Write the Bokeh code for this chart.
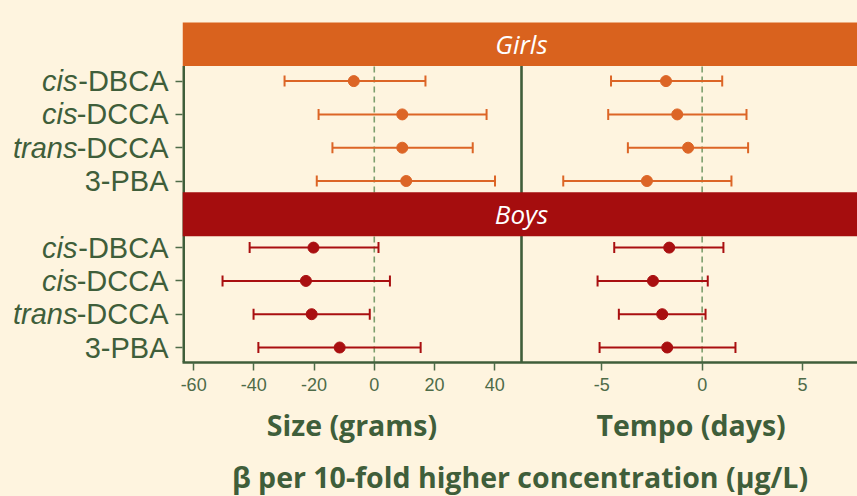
import numpy as np
from bokeh.plotting import figure
from bokeh.models import Range1d, FixedTicker, Label, LinearAxis, GlobalInlineStyleSheet
from bokeh.embed import file_html
from bokeh.resources import INLINE

# ---------------- data ----------------
row_italic = ["cis", "cis", "trans", ""]
row_plain = ["-DBCA", "-DCCA", "-DCCA", "3-PBA"]

girls_size_est = [-6.8, 9.3, 9.3, 10.6]
girls_size_lo = [-29.8, -18.5, -13.9, -19.1]
girls_size_hi = [17.0, 37.3, 32.7, 40.1]

boys_size_est = [-20.2, -22.7, -20.8, -11.5]
boys_size_lo = [-41.4, -50.4, -40.1, -38.5]
boys_size_hi = [1.4, 5.2, -1.5, 15.4]

girls_tempo_est = [-1.80, -1.24, -0.70, -2.75]
girls_tempo_lo = [-4.54, -4.68, -3.70, -6.92]
girls_tempo_hi = [1.00, 2.21, 2.29, 1.46]

boys_tempo_est = [-1.64, -2.45, -1.99, -1.74]
boys_tempo_lo = [-4.38, -5.21, -4.15, -5.11]
boys_tempo_hi = [1.06, 0.28, 0.17, 1.66]

size_ticks = [-60, -40, -20, 0, 20, 40]
tempo_ticks = [-5, 0, 5]

group_names = ["Girls", "Boys"]
size_title = "Size (grams)"
tempo_title = "Tempo (days)"
main_title = "β per 10-fold higher concentration (μg/L)"

# ---------------- layout / style ----------------
BG = "#FEF4DF"
GREEN = "#3F5E3A"
TICK_GREEN = "#4E6B48"
DASH_GREEN = "#7D9E6E"
GIRLS_BAND_C = "#D9621E"
BOYS_BAND_C = "#A50D0E"
GIRLS_C = "#DC6526"
BOYS_C = "#A90F10"

SIZE_LIM = (-63.7, 48.9)
TEMPO_LIM = (-9.0, 7.74)
FRAME_W, FRAME_H, SPLIT_PX = 675, 340, 339
Y_LIM = (0.55, 10.76)
girls_rows = [9, 8, 7, 6]
boys_rows = [4, 3, 2, 1]
GIRLS_BAND = (9.45, 10.8)
BOYS_BAND = (4.34, 5.66)
SIZE_TITLE_X = -7.4
TEMPO_TITLE_X = -0.55

px_per_size = SPLIT_PX / (SIZE_LIM[1] - SIZE_LIM[0])
x_end = SIZE_LIM[0] + FRAME_W / px_per_size
px_per_tempo = (FRAME_W - SPLIT_PX) / (TEMPO_LIM[1] - TEMPO_LIM[0])
t_start = TEMPO_LIM[0] - SPLIT_PX / px_per_tempo


def tempo_to_main(t):
    return SIZE_LIM[0] + (t - t_start) * px_per_tempo / px_per_size


p = figure(frame_width=FRAME_W, frame_height=FRAME_H,
           min_border_left=182, min_border_top=22, min_border_bottom=134, min_border_right=0,
           x_range=Range1d(SIZE_LIM[0], x_end), y_range=Range1d(*Y_LIM),
           output_backend="svg", toolbar_location=None,
           background_fill_color=BG, border_fill_color=BG, outline_line_color=None)
p.extra_x_ranges = {"tempo": Range1d(t_start, TEMPO_LIM[1])}
p.grid.visible = False
p.stylesheets = [GlobalInlineStyleSheet(css="html, body { background: %s; }" % BG)]

# zero reference lines
p.segment(x0=[0], y0=[Y_LIM[0]], x1=[0], y1=[Y_LIM[1]], line_color=DASH_GREEN,
          line_width=1.6, line_dash="6 4")
p.segment(x0=[0], y0=[Y_LIM[0]], x1=[0], y1=[Y_LIM[1]], line_color=DASH_GREEN,
          line_width=1.6, line_dash="6 4", x_range_name="tempo")

# panel separator and left frame line (under the header bands)
p.segment(x0=[SIZE_LIM[1]], y0=[Y_LIM[0]], x1=[SIZE_LIM[1]], y1=[GIRLS_BAND[0]],
          line_color=GREEN, line_width=2.6)
p.segment(x0=[SIZE_LIM[0]], y0=[Y_LIM[0]], x1=[SIZE_LIM[0]], y1=[GIRLS_BAND[0]],
          line_color=GREEN, line_width=5)

# header bands
p.quad(left=[SIZE_LIM[0]], right=[x_end], bottom=[GIRLS_BAND[0]], top=[GIRLS_BAND[1]],
       fill_color=GIRLS_BAND_C, line_color=None)
p.quad(left=[SIZE_LIM[0]], right=[x_end], bottom=[BOYS_BAND[0]], top=[BOYS_BAND[1]],
       fill_color=BOYS_BAND_C, line_color=None)


def forest(est, lo, hi, rows, color, rng="default"):
    p.segment(x0=lo, y0=rows, x1=hi, y1=rows, line_color=color, line_width=2, x_range_name=rng)
    p.scatter(x=lo + hi, y=rows + rows, marker="dash", angle=np.pi / 2, size=11,
              line_color=color, line_width=2, x_range_name=rng)
    p.scatter(x=est, y=rows, marker="circle", size=11, fill_color=color, line_color=color,
              x_range_name=rng)


forest(girls_size_est, girls_size_lo, girls_size_hi, girls_rows, GIRLS_C)
forest(boys_size_est, boys_size_lo, boys_size_hi, boys_rows, BOYS_C)
forest(girls_tempo_est, girls_tempo_lo, girls_tempo_hi, girls_rows, GIRLS_C, "tempo")
forest(boys_tempo_est, boys_tempo_lo, boys_tempo_hi, boys_rows, BOYS_C, "tempo")

# header texts (inside frame)
for name, band in zip(group_names, (GIRLS_BAND, BOYS_BAND)):
    yc = (band[0] + min(band[1], Y_LIM[1])) / 2
    p.add_layout(Label(x=SIZE_LIM[1], y=yc, text=name, text_align="center",
                       text_baseline="middle", text_font="Open Sans", text_font_style="italic",
                       text_font_size="26px", text_color="white"))

# ---- y axes: plain part of the label next to the frame, italic prefix outside it
FS_ROW = "29px"
all_rows = girls_rows + boys_rows
ya = p.yaxis[0]
ya.ticker = FixedTicker(ticks=all_rows)
ya.major_label_overrides = {r: t for r, t in zip(all_rows, row_plain + row_plain)}
ya.axis_line_color = None
ya.major_tick_out = 7
ya.major_tick_in = 0
ya.major_tick_line_color = TICK_GREEN
ya.major_tick_line_width = 1.5
ya.minor_tick_line_color = None
ya.major_label_standoff = 7
ya.major_label_text_font = "Liberation Sans"
ya.major_label_text_font_size = FS_ROW
ya.major_label_text_color = GREEN

yi = LinearAxis(ticker=FixedTicker(ticks=all_rows),
                major_label_overrides={r: t for r, t in zip(all_rows, row_italic + row_italic)})
yi.axis_line_color = None
yi.major_tick_line_color = None
yi.minor_tick_line_color = None
yi.major_tick_out = 0
yi.major_tick_in = 0
yi.major_label_standoff = -4
yi.major_label_text_font = "Liberation Sans"
yi.major_label_text_font_style = "italic"
yi.major_label_text_font_size = FS_ROW
yi.major_label_text_color = GREEN
p.add_layout(yi, "left")

# ---- x axis: one axis carrying both panels' ticks
tempo_main = [tempo_to_main(t) for t in tempo_ticks]
xa = p.xaxis[0]
xa.ticker = FixedTicker(ticks=[float(v) for v in size_ticks] + tempo_main)
ov = {float(v): str(v) for v in size_ticks}
ov.update({m: str(t) for m, t in zip(tempo_main, tempo_ticks)})
xa.major_label_overrides = ov
xa.axis_line_color = GREEN
xa.axis_line_width = 2.6
xa.major_tick_out = 8
xa.major_tick_in = 0
xa.major_tick_line_color = TICK_GREEN
xa.major_tick_line_width = 1.5
xa.minor_tick_line_color = None
xa.major_label_text_font = "Liberation Sans"
xa.major_label_text_font_size = "18px"
xa.major_label_text_color = TICK_GREEN
xa.major_label_standoff = 7

# ---- panel titles + overall title as a second, tickless x axis
title_pos = [SIZE_TITLE_X, tempo_to_main(TEMPO_TITLE_X)]
xt = LinearAxis(ticker=FixedTicker(ticks=title_pos),
                major_label_overrides={title_pos[0]: size_title, title_pos[1]: tempo_title},
                axis_label=main_title)
xt.axis_line_color = None
xt.major_tick_line_color = None
xt.minor_tick_line_color = None
xt.major_tick_out = 0
xt.major_tick_in = 0
xt.major_label_standoff = 12
xt.major_label_text_font = "Open Sans"
xt.major_label_text_font_style = "bold"
xt.major_label_text_font_size = "28.5px"
xt.major_label_text_color = GREEN
xt.axis_label_standoff = 11
xt.axis_label_text_font = "Open Sans"
xt.axis_label_text_font_style = "bold"
xt.axis_label_text_font_size = "28.5px"
xt.axis_label_text_color = GREEN
p.add_layout(xt, "below")

open("out.html", "w").write(file_html(p, INLINE))
